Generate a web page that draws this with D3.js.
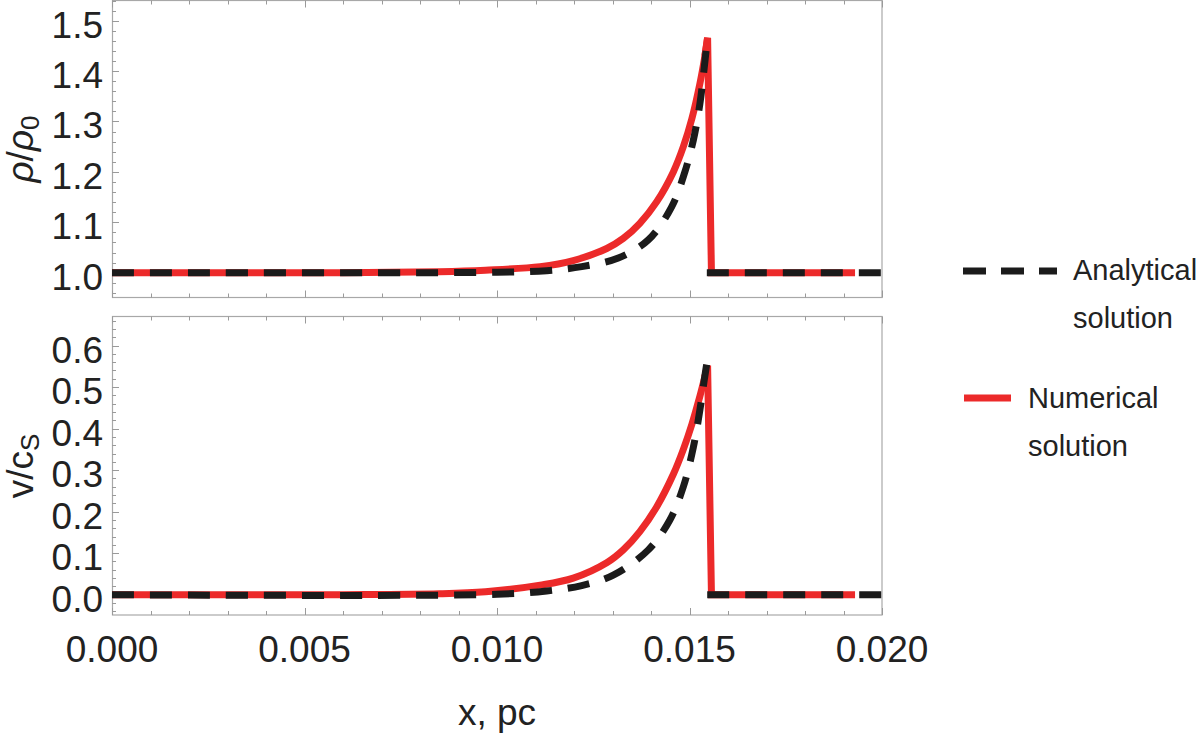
<!DOCTYPE html>
<html>
<head>
<meta charset="utf-8">
<script src="https://cdn.jsdelivr.net/npm/d3@7"></script>
<style>
  body { margin: 0; background: #fff; }
  svg { display: block; font-family: "Liberation Sans", Arial, sans-serif; }
</style>
</head>
<body>
<div id="chart"></div>
<script>
// tick labels
var xTicks = [0, 0.005, 0.010, 0.015, 0.020];
var rhoTicks = [1.0, 1.1, 1.2, 1.3, 1.4, 1.5];
var velTicks = [0.0, 0.1, 0.2, 0.3, 0.4, 0.5, 0.6];

// density, numerical solution (red)
var numRhoX = [0, 0.006, 0.0085, 0.0097, 0.01112, 0.01198, 0.01285, 0.01328, 0.01371, 0.01415, 0.01458, 0.01484, 0.01506, 0.01527, 0.0154, 0.01547, 0.01557, 0.0193];
var numRhoY = [1.0, 1.0, 1.002, 1.005, 1.012, 1.024, 1.048, 1.068, 1.098, 1.141, 1.200, 1.250, 1.305, 1.375, 1.430, 1.466, 1.0, 1.0];

// density, analytical solution (black dashed)
var anaRhoX = [0, 0.0100, 0.01129, 0.0122, 0.01315, 0.01393, 0.01454, 0.01488, 0.0151, 0.01527, 0.01538, 0.01545];
var anaRhoY = [1.0, 1.001, 1.004, 1.012, 1.029, 1.065, 1.131, 1.200, 1.263, 1.335, 1.405, 1.455];
var anaRhoTailX = [0.01545, 0.020];
var anaRhoTailY = [1.0, 1.0];

// velocity, numerical solution (red)
var numVelX = [0, 0.006, 0.0085, 0.0097, 0.01112, 0.01198, 0.01285, 0.01328, 0.01371, 0.01415, 0.01458, 0.01484, 0.01506, 0.01527, 0.0154, 0.01547, 0.01557, 0.0193];
var numVelY = [0, 0, 0.002, 0.007, 0.023, 0.040, 0.077, 0.108, 0.152, 0.212, 0.290, 0.350, 0.410, 0.478, 0.525, 0.552, 0, 0];

// velocity, analytical solution (black dashed)
var anaVelX = [0, 0.0100, 0.01129, 0.0122, 0.01302, 0.01393, 0.01449, 0.01484, 0.0151, 0.01527, 0.01538, 0.01546];
var anaVelY = [0, 0.001, 0.009, 0.022, 0.047, 0.108, 0.180, 0.260, 0.355, 0.445, 0.515, 0.563];
var anaVelTailX = [0.01546, 0.020];
var anaVelTailY = [0, 0];

var width = 1200, height = 735;
var left = 112, right = 882;
var red = "#ec2a2a", black = "#1b1b1b";
var frameColor = "#a8a8a8", tickColor = "#9a9a9a";

var svg = d3.select("#chart").append("svg")
    .attr("width", width)
    .attr("height", height);

var x = d3.scaleLinear().domain([0, 0.02]).range([left, right]);

var panels = [
  {top: 0.5, bottom: 297.5, domain: [0.9508, 1.540], ticks: rhoTicks,
   num: [numRhoX, numRhoY], ana: [anaRhoX, anaRhoY], tail: [anaRhoTailX, anaRhoTailY]},
  {top: 316.5, bottom: 615, domain: [-0.0489, 0.670], ticks: velTicks,
   num: [numVelX, numVelY], ana: [anaVelX, anaVelY], tail: [anaVelTailX, anaVelTailY]}
];

function zip(xs, ys) {
  return xs.map(function(v, i) { return [v, ys[i]]; });
}

panels.forEach(function(p) {
  var y = d3.scaleLinear().domain(p.domain).range([p.bottom, p.top]);
  var g = svg.append("g");

  // frame
  g.append("rect")
    .attr("x", left + 0.5)
    .attr("y", p.top)
    .attr("width", right - left - 0.5)
    .attr("height", p.bottom - p.top)
    .attr("fill", "none")
    .attr("stroke", frameColor)
    .attr("stroke-width", 1.2);

  // x ticks on top and bottom edges, pointing inward
  var xMinor = d3.range(0, 0.0205, 0.001);
  xMinor.forEach(function(v, i) {
    var len = (i % 5 === 0) ? 7 : 4;
    var px = Math.round(x(v)) + 0.5;
    g.append("line").attr("x1", px).attr("x2", px)
      .attr("y1", p.bottom).attr("y2", p.bottom - len)
      .attr("stroke", tickColor).attr("stroke-width", 1);
    g.append("line").attr("x1", px).attr("x2", px)
      .attr("y1", p.top).attr("y2", p.top + len)
      .attr("stroke", tickColor).attr("stroke-width", 1);
  });

  // y ticks on left edge
  var step = 0.02;
  var start = Math.ceil(p.domain[0] / step - 1e-6);
  var stop = Math.floor(p.domain[1] / step + 1e-6);
  d3.range(start, stop + 1).forEach(function(k) {
    var major = (k % 5 === 0);
    var py = Math.round(y(k * step)) + 0.5;
    g.append("line").attr("x1", left).attr("x2", left + (major ? 7 : 4))
      .attr("y1", py).attr("y2", py)
      .attr("stroke", tickColor).attr("stroke-width", 1);
  });

  // y tick labels
  g.selectAll(".ylab")
    .data(p.ticks)
    .enter().append("text")
    .attr("x", 103)
    .attr("y", function(d) { return y(d) + 17; })
    .attr("text-anchor", "end")
    .attr("font-size", 37)
    .attr("fill", "#222")
    .text(function(d) { return d3.format(".1f")(d); });

  var smooth = d3.line()
    .x(function(d) { return x(d[0]); })
    .y(function(d) { return y(d[1]); })
    .curve(d3.curveCatmullRom.alpha(0.5));
  var straight = d3.line()
    .x(function(d) { return x(d[0]); })
    .y(function(d) { return y(d[1]); });

  // numerical (red, underneath): smooth rise, then straight shock drop
  var pts = zip(p.num[0], p.num[1]);
  var peak = d3.maxIndex(p.num[1]);
  g.append("path")
    .attr("d", smooth(pts.slice(0, peak + 1)))
    .attr("fill", "none")
    .attr("stroke", red)
    .attr("stroke-width", 7);
  g.append("path")
    .attr("d", straight(pts.slice(peak - 1)))
    .attr("fill", "none")
    .attr("stroke", red)
    .attr("stroke-width", 7)
    .attr("stroke-linejoin", "miter")
    .attr("stroke-miterlimit", 4);

  // analytical (black dashed, on top)
  g.append("path")
    .attr("d", smooth(zip(p.ana[0], p.ana[1])))
    .attr("fill", "none")
    .attr("stroke", black)
    .attr("stroke-width", 7)
    .attr("stroke-dasharray", "22,16");
  g.append("path")
    .attr("d", straight(zip(p.tail[0], p.tail[1])))
    .attr("fill", "none")
    .attr("stroke", black)
    .attr("stroke-width", 7)
    .attr("stroke-dasharray", "22,16");
});

// x tick labels
svg.selectAll(".xlab")
  .data(xTicks)
  .enter().append("text")
  .attr("x", function(d) { return x(d); })
  .attr("y", 662)
  .attr("text-anchor", "middle")
  .attr("font-size", 37)
  .attr("fill", "#222")
  .text(function(d) { return d3.format(".3f")(d); });

// axis titles
svg.append("text")
  .attr("x", x(0.0100))
  .attr("y", 725)
  .attr("text-anchor", "middle")
  .attr("font-size", 37)
  .attr("fill", "#222")
  .text("x, pc");

var rhoLab = svg.append("text")
  .attr("transform", "translate(33,149) rotate(-90)")
  .attr("text-anchor", "middle")
  .attr("font-size", 37)
  .attr("fill", "#222");
rhoLab.append("tspan").attr("font-style", "italic").text("ρ");
rhoLab.append("tspan").text("/");
rhoLab.append("tspan").attr("font-style", "italic").text("ρ");
rhoLab.append("tspan").attr("font-size", 26).attr("dy", 6).text("0");

var velLab = svg.append("text")
  .attr("transform", "translate(33,466) rotate(-90)")
  .attr("text-anchor", "middle")
  .attr("font-size", 37)
  .attr("fill", "#222");
velLab.append("tspan").text("v/c");
velLab.append("tspan").attr("font-size", 26).attr("dy", 6).text("S");

// legend
var legend = svg.append("g");
legend.append("line")
  .attr("x1", 963).attr("x2", 1057)
  .attr("y1", 271).attr("y2", 271)
  .attr("stroke", black).attr("stroke-width", 7)
  .attr("stroke-dasharray", "23,15");
legend.append("text").attr("x", 1073).attr("y", 280)
  .attr("font-size", 29).attr("fill", "#222").text("Analytical");
legend.append("text").attr("x", 1073).attr("y", 328)
  .attr("font-size", 29).attr("fill", "#222").text("solution");

legend.append("line")
  .attr("x1", 964).attr("x2", 1011)
  .attr("y1", 398).attr("y2", 398)
  .attr("stroke", red).attr("stroke-width", 7);
legend.append("text").attr("x", 1028).attr("y", 408)
  .attr("font-size", 29).attr("fill", "#222").text("Numerical");
legend.append("text").attr("x", 1028).attr("y", 456)
  .attr("font-size", 29).attr("fill", "#222").text("solution");
</script>
</body>
</html>
